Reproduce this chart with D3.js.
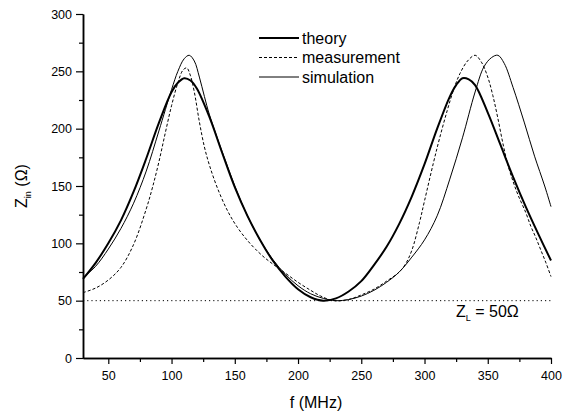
<!DOCTYPE html>
<html>
  <head>
    <meta charset="utf-8">
    <script src="https://cdnjs.cloudflare.com/ajax/libs/d3/7.8.5/d3.min.js"></script>
    <style>
      body { margin: 0; background: #fff; }
      svg { font-family: "Liberation Sans", Arial, sans-serif; }
    </style>
  </head>
  <body>
    <script>

      // data (f in MHz, Zin in ohm)
      var theoryF = [30, 40, 50, 60, 70, 80, 90, 100, 105, 110, 115, 120, 130, 140, 150, 160, 170, 180, 190, 200, 210, 220, 230, 240, 250, 260, 270, 280, 290, 300, 310, 320, 325, 330, 335, 340, 350, 360, 370, 380, 390, 400];
      var theoryZ = [69, 83, 100, 120, 145, 174, 205, 232, 240, 244, 242, 235, 210, 179, 149, 124, 103, 85, 71, 60, 53, 50, 52, 58, 67, 81, 97, 117, 141, 169, 200, 228, 238, 244, 243, 238, 214, 186, 158, 132, 108, 85];

      var measF = [30, 40, 50, 60, 70, 80, 85, 90, 95, 100, 105, 109, 112, 115, 118, 122, 126, 130, 136, 144, 152, 162, 172, 180, 190, 200, 210, 218, 228, 240, 250, 260, 270, 280, 285, 290, 296, 300, 307, 312, 318, 323, 328, 334, 340, 345, 350, 354, 358, 362, 366, 370, 374, 380, 384, 388, 392, 396, 400];
      var measZ = [57, 61, 68, 79, 99, 130, 149, 171, 196, 220, 240, 251, 253, 246, 232, 206, 184, 168, 149, 129, 114, 100, 89, 82, 74, 66, 59, 54, 50, 51, 55, 60, 67, 75, 82, 94, 118, 137, 170, 192, 216, 234, 248, 259, 264, 258, 245, 229, 209, 187, 168, 154, 142, 127, 115, 105, 94, 83, 71];

      var simF = [30, 40, 50, 60, 70, 80, 90, 100, 105, 110, 114, 118, 122, 126, 130, 140, 150, 160, 170, 180, 190, 200, 210, 220, 230, 240, 250, 260, 270, 280, 290, 300, 310, 320, 330, 340, 347, 353, 358, 363, 370, 379, 387, 395, 400];
      var simZ = [70, 80, 95, 113, 135, 163, 198, 234, 250, 261, 264, 259, 245, 228, 212, 180, 150, 124, 103, 86, 73, 63, 56, 52, 50, 51, 54, 59, 66, 75, 88, 103, 124, 156, 192, 232, 254, 262, 264, 257, 236, 205, 176, 150, 132];

      var loadZ = 50;
      var xMajor = [50, 100, 150, 200, 250, 300, 350, 400];
      var xMinor = [75, 125, 175, 225, 275, 325, 375];
      var yMajor = [0, 50, 100, 150, 200, 250, 300];
      var yMinor = [25, 75, 125, 175, 225, 275];

      var width = 563, height = 414;
      var margin = {top: 14, right: 12, bottom: 56, left: 83};
      var w = width - margin.left - margin.right;
      var h = height - margin.top - margin.bottom;

      var svg = d3.select("body")
        .append("svg")
        .attr("width", width)
        .attr("height", height);

      var g = svg.append("g")
        .attr("transform", "translate(" + margin.left + "," + margin.top + ")");

      var x = d3.scaleLinear().domain([30, 400]).range([0, w]);
      var y = d3.scaleLinear().domain([0, 300]).range([h, 0]);

      // axes: major ticks with labels, minor ticks without
      g.append("g")
        .attr("transform", "translate(0," + h + ")")
        .call(d3.axisBottom(x).tickValues(xMajor).tickSize(6).tickPadding(7).tickSizeOuter(0));
      g.append("g")
        .attr("transform", "translate(0," + h + ")")
        .call(d3.axisBottom(x).tickValues(xMinor).tickSize(4).tickFormat("").tickSizeOuter(0));

      g.append("g")
        .call(d3.axisLeft(y).tickValues(yMajor).tickSize(7).tickPadding(4).tickSizeOuter(0));
      g.append("g")
        .call(d3.axisLeft(y).tickValues(yMinor).tickSize(4).tickFormat("").tickSizeOuter(0));

      g.selectAll(".domain").attr("stroke", "#000").attr("stroke-width", 1.5);
      g.selectAll(".tick line").attr("stroke", "#000").attr("stroke-width", 1.2);
      g.selectAll(".tick text")
        .attr("fill", "#000")
        .style("font-family", "'Liberation Sans', Arial, sans-serif")
        .style("font-size", "12.5px");

      // Z_L = 50 reference line
      g.append("line")
        .attr("x1", x(30)).attr("x2", x(400))
        .attr("y1", y(loadZ)).attr("y2", y(loadZ))
        .attr("stroke", "#000")
        .attr("stroke-width", 1)
        .attr("stroke-dasharray", "1.2,3");

      var line = d3.line().curve(d3.curveCatmullRom.alpha(0.5));

      function pts(fs, zs) {
        return fs.map(function(f, i) { return [x(f), y(zs[i])]; });
      }

      // series
      g.append("path")
        .attr("d", line(pts(simF, simZ)))
        .attr("fill", "none")
        .attr("stroke", "#000")
        .attr("stroke-width", 1);

      g.append("path")
        .attr("d", line(pts(measF, measZ)))
        .attr("fill", "none")
        .attr("stroke", "#000")
        .attr("stroke-width", 1)
        .attr("stroke-dasharray", "3,2");

      g.append("path")
        .attr("d", line(pts(theoryF, theoryZ)))
        .attr("fill", "none")
        .attr("stroke", "#000")
        .attr("stroke-width", 2);

      // legend
      var legendItems = [
        {name: "theory", width: 2, dash: null},
        {name: "measurement", width: 1, dash: "3,2"},
        {name: "simulation", width: 1, dash: null}
      ];
      var legend = svg.selectAll(".legend")
        .data(legendItems)
        .enter()
        .append("g")
        .attr("class", "legend")
        .attr("transform", function(d, i) { return "translate(259," + (38 + i * 19.5) + ")"; });
      legend.append("line")
        .attr("x1", 0).attr("x2", 40)
        .attr("stroke", "#000")
        .attr("stroke-width", function(d) { return d.width; })
        .attr("stroke-dasharray", function(d) { return d.dash; });
      legend.append("text")
        .attr("x", 43)
        .attr("y", 5.5)
        .style("font-size", "16px")
        .text(function(d) { return d.name; });

      // Z_L label
      var zl = svg.append("text")
        .attr("x", 456)
        .attr("y", 317)
        .style("font-size", "16px");
      zl.append("tspan").text("Z");
      zl.append("tspan").attr("dy", 4).style("font-size", "9px").text("L");
      zl.append("tspan").attr("dy", -4).text(" = 50\u03A9");

      // x-axis title
      svg.append("text")
        .attr("x", 316)
        .attr("y", 408)
        .style("text-anchor", "middle")
        .style("font-size", "16px")
        .text("f (MHz)");

      // y-axis title
      var yt = svg.append("text")
        .attr("transform", "translate(27,186) rotate(-90)")
        .style("text-anchor", "middle")
        .style("font-size", "16px");
      yt.append("tspan").text("Z");
      yt.append("tspan").attr("dy", 4).style("font-size", "9px").text("in");
      yt.append("tspan").attr("dy", -4).text(" (\u03A9)");

    </script>
  </body>
</html>
